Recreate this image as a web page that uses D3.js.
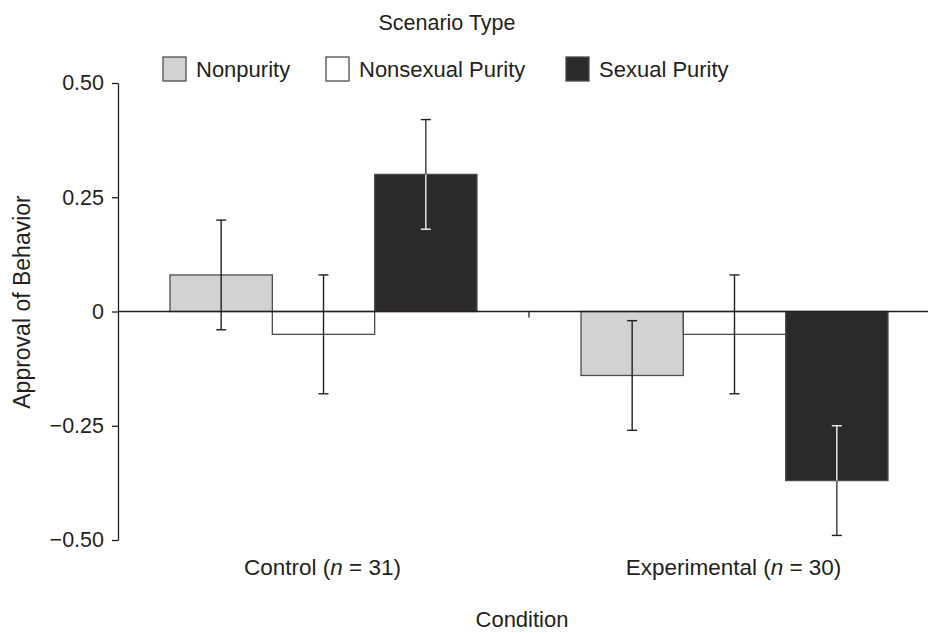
<!DOCTYPE html>
<html>
<head>
<meta charset="utf-8">
<script src="https://cdn.jsdelivr.net/npm/d3@7"></script>
<style>
  html, body { margin: 0; padding: 0; background: #fff; }
  text { font-family: "Liberation Sans", Arial, sans-serif; fill: #231f20; }
</style>
</head>
<body>
<svg id="chart" width="928" height="633"></svg>
<script>
const conditions = ["Control", "Experimental"];
const conditionN = ["31", "30"];
const series = ["Nonpurity", "Nonsexual Purity", "Sexual Purity"];
const seriesColors = ["#d1d2d4", "#ffffff", "#2b292a"];
const controlValues = [0.08, -0.05, 0.30];
const controlErrors = [0.12, 0.13, 0.12];
const experimentalValues = [-0.14, -0.05, -0.37];
const experimentalErrors = [0.12, 0.13, 0.12];
const yTicks = [0.5, 0.25, 0, -0.25, -0.5];
const yTickLabels = ["0.50", "0.25", "0", "\u22120.25", "\u22120.50"];

const values = [controlValues, experimentalValues];
const errors = [controlErrors, experimentalErrors];
const data = [];
conditions.forEach((c, i) => series.forEach((s, j) => data.push({
  condition: c, series: s, idx: j, value: values[i][j], err: errors[i][j]
})));

const svg = d3.select("#chart");
const W = 928;
const left = 118;

const y = d3.scaleLinear().domain([-0.5, 0.5]).range([540, 83]);
const x0 = d3.scaleBand().domain(conditions).range([left, left + 2 * 411]);
const x1 = d3.scaleBand().domain(series).range([52, 359]);
const color = d3.scaleOrdinal().domain(series).range(seriesColors);

// Y axis
const yAxis = d3.axisLeft(y).tickValues(yTicks)
  .tickFormat((d, i) => yTickLabels[i]).tickSize(6).tickSizeOuter(0);
const ya = svg.append("g").attr("transform", `translate(${left},0)`).call(yAxis);
ya.select(".domain").attr("stroke", "#231f20").attr("stroke-width", 1.3);
ya.selectAll(".tick line").attr("stroke", "#231f20").attr("stroke-width", 1.3);
ya.selectAll(".tick text").attr("x", -14).attr("font-size", 21.5)
  .style("font-family", "'Liberation Sans', Arial, sans-serif").attr("fill", "#231f20");

// Bars
const groups = svg.append("g").selectAll("g").data(data).join("g")
  .attr("transform", d => `translate(${x0(d.condition) + x1(d.series)},0)`);
groups.append("rect")
  .attr("x", 0)
  .attr("width", x1.bandwidth())
  .attr("y", d => y(Math.max(0, d.value)))
  .attr("height", d => Math.abs(y(d.value) - y(0)))
  .attr("fill", d => color(d.series))
  .attr("stroke", "#4d4d4d").attr("stroke-width", 1.3);

// Zero line
svg.append("line").attr("x1", left).attr("x2", W).attr("y1", y(0)).attr("y2", y(0))
  .attr("stroke", "#231f20").attr("stroke-width", 1.3);
// Category separator tick
svg.append("line").attr("x1", x0("Experimental")).attr("x2", x0("Experimental"))
  .attr("y1", y(0)).attr("y2", y(0) + 6).attr("stroke", "#231f20").attr("stroke-width", 1.3);

// Error bars
const cap = 5;
groups.each(function(d) {
  const g = d3.select(this);
  const cx = x1.bandwidth() / 2;
  const hi = d.value + d.err, lo = d.value - d.err;
  const dark = d.idx === 2;
  const outerEnd = d.value >= 0 ? hi : lo;
  const innerEnd = d.value >= 0 ? lo : hi;
  g.append("line").attr("x1", cx).attr("x2", cx)
    .attr("y1", y(d.value)).attr("y2", y(outerEnd))
    .attr("stroke", dark ? "#3a3a3a" : "#231f20").attr("stroke-width", 1.4);
  g.append("line").attr("x1", cx).attr("x2", cx)
    .attr("y1", y(d.value)).attr("y2", y(innerEnd))
    .attr("stroke", dark ? "#f4f4f4" : "#231f20").attr("stroke-width", 1.4);
  g.append("line").attr("x1", cx - cap).attr("x2", cx + cap)
    .attr("y1", y(outerEnd)).attr("y2", y(outerEnd))
    .attr("stroke", "#231f20").attr("stroke-width", 1.4);
  const innerInside = dark && Math.abs(innerEnd) < Math.abs(d.value);
  g.append("line").attr("x1", cx - cap).attr("x2", cx + cap)
    .attr("y1", y(innerEnd)).attr("y2", y(innerEnd))
    .attr("stroke", innerInside ? "#f4f4f4" : "#231f20").attr("stroke-width", 1.4);
});

// X category labels
const xl = svg.append("g").selectAll("text").data(conditions).join("text")
  .attr("x", d => x0(d) + x0.bandwidth() / 2 - 1)
  .attr("y", 575)
  .attr("text-anchor", "middle")
  .attr("font-size", 22.5);
xl.each(function(d, i) {
  const t = d3.select(this);
  t.append("tspan").text(d + " (");
  t.append("tspan").attr("font-style", "italic").text("n");
  t.append("tspan").text(" = " + conditionN[i] + ")");
});

// Axis titles
svg.append("text").attr("x", 522).attr("y", 627).attr("text-anchor", "middle")
  .attr("font-size", 22).text("Condition");
svg.append("text").attr("transform", "translate(30,302) rotate(-90)")
  .attr("text-anchor", "middle").attr("font-size", 23).text("Approval of Behavior");

// Legend
const legendX = [163, 326, 566];
svg.append("text").attr("x", 447).attr("y", 30).attr("text-anchor", "middle")
  .attr("font-size", 21.5).text("Scenario Type");
const lg = svg.append("g").selectAll("g").data(series).join("g")
  .attr("transform", (d, i) => `translate(${legendX[i]},57)`);
lg.append("rect").attr("width", 23).attr("height", 24)
  .attr("fill", d => color(d)).attr("stroke", "#4d4d4d").attr("stroke-width", 1.3);
lg.append("text").attr("x", 33).attr("y", 20).attr("font-size", 22).text(d => d);
</script>
</body>
</html>
